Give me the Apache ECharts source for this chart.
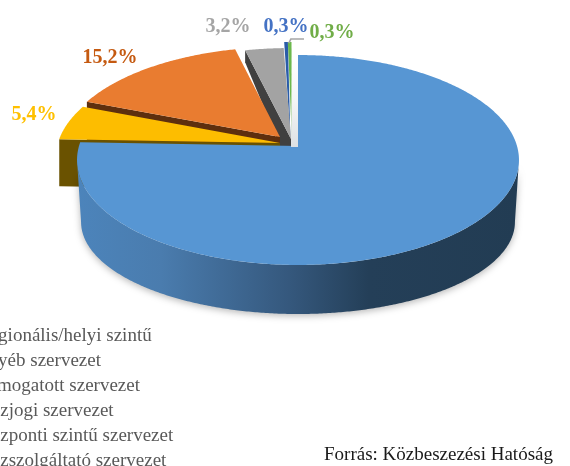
<!DOCTYPE html>
<html>
<head>
<meta charset="utf-8">
<style>html,body{margin:0;padding:0;background:#fff;overflow:hidden}#c{width:570px;height:466px}</style>
<script src="https://cdn.jsdelivr.net/npm/echarts@6/dist/echarts.min.js"></script>
</head>
<body>
<div id="c"></div>
<script>
// ---- data ----
const categories = ['Regionális/helyi szintű','Egyéb szervezet','Támogatott szervezet','Közjogi szervezet','Központi szintű szervezet','Közszolgáltató szervezet'];
const values = [75.6, 15.2, 3.2, 5.4, 0.3, 0.3];
const sliceOrder = [0, 3, 1, 2, 4, 5];   // clockwise from 12 o'clock
const paintOrder = [5, 4, 2, 1, 3, 0];   // back to front
const sourceNote = 'Forrás: Közbeszezési Hatóság';

// ---- styles and layout ----
const colors = ['#5796d3','#e97c30','#a3a3a3','#fdbd00','#2a5ca8','#6cb84c'];
const labelColors = ['#5b9bd5','#c55a11','#a5a5a5','#ffc000','#4472c4','#70ad47'];
const cutColors = [null,'#5e2f0e','#404040','#6a5200',null,null];
const explode = [[0,0],[-17,-8],[-7,-7],[-21,-3],[-6.5,-13],[-6.5,-13]];
const apexShift = [[0,0],[-18,-9],[-7,-7],[-18,-3],[-7.5,-4],[-6,-4]];
const cuts = [null,{rim:50,apex:50,back:0},{rim:12,apex:7,back:-11},{rim:47,apex:47,back:0},null,null];
const labelPos = [null,[110,58],[228,27],[34,115],[286,27],[332,33]];
const CX=298, CY=146, RX=219, RY=103.1, K=0.1333;
const CYB=209.7, RXB=215, RYB=90.4;

function rimTop(turn,dx,dy){const t=turn*2*Math.PI,u=Math.sin(t),v=Math.cos(t),w=1+K*v;return [CX+dx+RX*u/w,CY+dy-RY*v/w];}
function rimBottom(turn){const t=turn*2*Math.PI,u=Math.sin(t),v=Math.cos(t),w=1+K*v;return [CX+RXB*u/w,CYB-RYB*v/w];}
function samples(a,b){const n=Math.max(2,Math.ceil((b-a)*720)),r=[];for(let i=0;i<=n;i++)r.push(a+(b-a)*i/n);return r;}
function poly(points,style){return {type:'polygon',shape:{points},style};}

const totalValue=values.reduce((a,b)=>a+b,0);
const startShare={};
(function(){let c=0;sliceOrder.forEach(i=>{startShare[i]=c/totalValue;c+=values[i];});})();

function renderSlice(i){
  return function(params,api){
    const a=api.value(1), b=a+api.value(0)/totalValue;
    const [dx,dy]=explode[i], [ax,ay]=apexShift[i];
    const apex=[CX+ax,CY+ay];
    const children=[];
    if(i===0){
      const tl=Math.acos(-K)/(2*Math.PI);           // silhouette turn on the right
      const ts=samples(tl,1-tl);
      const wall=ts.map(t=>rimTop(t,0,0)).concat(ts.slice().reverse().map(rimBottom));
      children.push(poly(wall,{
        fill:new echarts.graphic.LinearGradient(0,0,1,0,[
          {offset:0,color:'#4c84bb'},{offset:.19,color:'#4a7cae'},{offset:.48,color:'#35587d'},{offset:.66,color:'#243f58'},{offset:1,color:'#223c53'}]),
        shadowBlur:7,shadowColor:'rgba(0,0,0,.28)',shadowOffsetY:2}));
    }
    const cut=cuts[i];
    if(cut){
      const r=rimTop(a,dx,dy);
      children.push(poly([r,apex,[apex[0],apex[1]+cut.apex],[apex[0]+cut.back,apex[1]+cut.apex],[r[0],r[1]+cut.rim]],{fill:cutColors[i]}));
    }
    const pts=[apex].concat(samples(a,b).map(t=>rimTop(t,dx,dy)));
    children.push(poly(pts,{fill:colors[i]}));
    if(i===0){
      const t0=rimTop(0,0,0);
      children.push(poly([[t0[0],t0[1]],[CX,CY+1],[CX-7,CY+1],[CX-6,t0[1]]],{
        fill:new echarts.graphic.LinearGradient(0,0,0,1,[{offset:0,color:'#ffffff'},{offset:.5,color:'#f4f5f6'},{offset:1,color:'#dde1e4'}])}));
    }
    if(labelPos[i]){
      children.push({type:'text',x:labelPos[i][0],y:labelPos[i][1],style:{
        text:api.value(0).toFixed(1).replace('.',',')+'%',
        fill:labelColors[i],font:'bold 20px "Liberation Serif"',align:'center',verticalAlign:'middle'}});
    }
    if(i===5){
      const r=rimTop(a,dx,dy);
      children.push({type:'polyline',shape:{points:[[r[0]+1,r[1]+1],[r[0]+3,r[1]-3],[304,r[1]-3]]},style:{stroke:'#a6a6a6',lineWidth:1.6,fill:'none'}});
    }
    return {type:'group',children};
  };
}

const chart=echarts.init(document.getElementById('c'),null,{renderer:'canvas'});
chart.setOption({
  animation:false,
  backgroundColor:'#ffffff',
  legend:{
    orient:'vertical',left:-38,top:327,height:180,itemWidth:10,itemHeight:14,itemGap:6,selectedMode:false,padding:0,
    data:categories,
    textStyle:{color:'#595959',fontFamily:'Liberation Serif',fontSize:19,lineHeight:19}
  },
  graphic:[{type:'text',left:324,top:446,style:{text:sourceNote,fill:'#1a1a1a',font:'19px "Liberation Serif"'}}],
  series:paintOrder.map(i=>({
    type:'custom',name:categories[i],coordinateSystem:'none',silent:true,
    itemStyle:{color:colors[i]},
    data:[[values[i],startShare[i]]],
    renderItem:renderSlice(i)
  }))
});
</script>
</body>
</html>
